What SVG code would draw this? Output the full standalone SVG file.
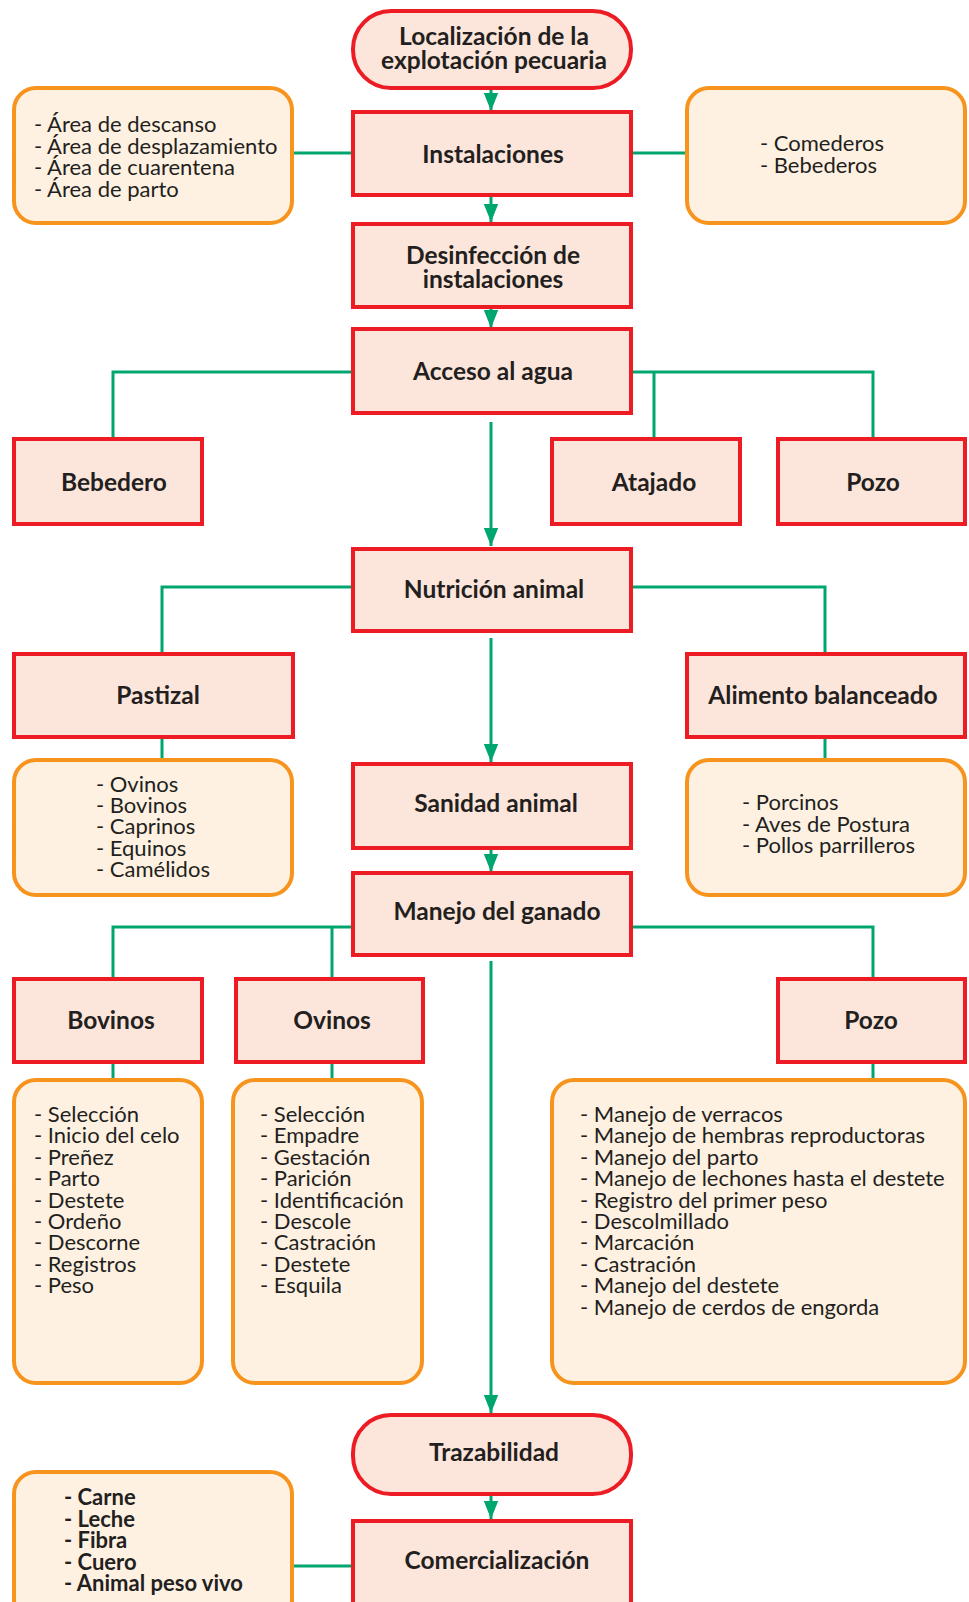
<svg xmlns="http://www.w3.org/2000/svg" width="969" height="1602" viewBox="0 0 969 1602">
<style>
.b{fill:#fce5da;stroke:#ed1c24;stroke-width:4}
.o{fill:#fef1e2;stroke:#f7941d;stroke-width:4}
.h{font-family:Lato,"Liberation Sans",sans-serif;font-weight:bold;font-size:24.5px;fill:#231f20;text-anchor:middle}
.t{font-family:Lato,"Liberation Sans",sans-serif;font-size:22px;fill:#231f20}
.tb{font-family:Lato,"Liberation Sans",sans-serif;font-size:22px;font-weight:bold;fill:#231f20}
.c{fill:none;stroke:#00a66f;stroke-width:3}
</style>
<defs>
<marker id="ar" markerUnits="userSpaceOnUse" markerWidth="18" markerHeight="22" refX="20" refY="8" orient="auto" viewBox="0 0 20 16">
<path d="M0,0 L20,8 L0,16 Z" fill="#00a66f"/>
</marker>
</defs>
<g id="connectors">
<path class="c" d="M491,90 V111" marker-end="url(#ar)"/>
<path class="c" d="M491,197 V222" marker-end="url(#ar)"/>
<path class="c" d="M491,309 V328" marker-end="url(#ar)"/>
<path class="c" d="M294,153 H351 M633,153 H685"/>
<path class="c" d="M351,372 H113 V437 M633,372 H873 V437 M654,372 V437"/>
<path class="c" d="M491,422 V546" marker-end="url(#ar)"/>
<path class="c" d="M351,587 H162 V652 M633,587 H825 V652 M162,739 V758 M825,739 V758"/>
<path class="c" d="M491,638 V762" marker-end="url(#ar)"/>
<path class="c" d="M491,850 V872" marker-end="url(#ar)"/>
<path class="c" d="M351,927 H113 V977 M332,927 V977 M633,927 H873 V977 M113,1064 V1078 M332,1064 V1078 M873,1064 V1078"/>
<path class="c" d="M491,961 V1413" marker-end="url(#ar)"/>
<path class="c" d="M491,1496 V1519" marker-end="url(#ar)"/>
<path class="c" d="M294,1566 H351"/>
</g>
<g id="n-localizacion"><rect class="b" x="353" y="11" width="278" height="77" rx="38"/><text class="h" x="494" y="45">Localización de la</text><text class="h" x="494" y="69">explotación pecuaria</text></g>
<g id="n-areas"><rect class="o" x="14" y="88" width="278" height="135" rx="22"/><text class="t" x="34" y="132">- Área de descanso</text><text class="t" x="34" y="154">- Área de desplazamiento</text><text class="t" x="34" y="175">- Área de cuarentena</text><text class="t" x="34" y="197">- Área de parto</text></g>
<g id="n-instalaciones"><rect class="b" x="353" y="112" width="278" height="83"/><text class="h" x="493" y="163">Instalaciones</text></g>
<g id="n-comederos"><rect class="o" x="687" y="88" width="278" height="135" rx="22"/><text class="t" x="760" y="151">- Comederos</text><text class="t" x="760" y="173">- Bebederos</text></g>
<g id="n-desinfeccion"><rect class="b" x="353" y="224" width="278" height="83"/><text class="h" x="493" y="264">Desinfección de</text><text class="h" x="493" y="288">instalaciones</text></g>
<g id="n-acceso"><rect class="b" x="353" y="329" width="278" height="84"/><text class="h" x="493" y="380">Acceso al agua</text></g>
<g id="n-bebedero"><rect class="b" x="14" y="439" width="188" height="85"/><text class="h" x="114" y="491">Bebedero</text></g>
<g id="n-atajado"><rect class="b" x="552" y="439" width="188" height="85"/><text class="h" x="654" y="491">Atajado</text></g>
<g id="n-pozo1"><rect class="b" x="778" y="439" width="187" height="85"/><text class="h" x="873" y="491">Pozo</text></g>
<g id="n-nutricion"><rect class="b" x="353" y="549" width="278" height="82"/><text class="h" x="494" y="598">Nutrición animal</text></g>
<g id="n-pastizal"><rect class="b" x="14" y="654" width="279" height="83"/><text class="h" x="158" y="704">Pastizal</text></g>
<g id="n-alimento"><rect class="b" x="687" y="654" width="278" height="83"/><text class="h" x="823" y="704">Alimento balanceado</text></g>
<g id="n-pastizal-list"><rect class="o" x="14" y="760" width="278" height="135" rx="22"/><text class="t" x="96" y="792">- Ovinos</text><text class="t" x="96" y="813">- Bovinos</text><text class="t" x="96" y="834">- Caprinos</text><text class="t" x="96" y="856">- Equinos</text><text class="t" x="96" y="877">- Camélidos</text></g>
<g id="n-alimento-list"><rect class="o" x="687" y="760" width="278" height="135" rx="22"/><text class="t" x="742" y="810">- Porcinos</text><text class="t" x="742" y="832">- Aves de Postura</text><text class="t" x="742" y="853">- Pollos parrilleros</text></g>
<g id="n-sanidad"><rect class="b" x="353" y="764" width="278" height="84"/><text class="h" x="496" y="812">Sanidad animal</text></g>
<g id="n-manejo"><rect class="b" x="353" y="873" width="278" height="82"/><text class="h" x="497" y="920">Manejo del ganado</text></g>
<g id="n-bovinos"><rect class="b" x="14" y="979" width="188" height="83"/><text class="h" x="111" y="1029">Bovinos</text></g>
<g id="n-ovinos"><rect class="b" x="236" y="979" width="187" height="83"/><text class="h" x="332" y="1029">Ovinos</text></g>
<g id="n-pozo2"><rect class="b" x="778" y="979" width="187" height="83"/><text class="h" x="871" y="1029">Pozo</text></g>
<g id="n-bovinos-list"><rect class="o" x="14" y="1080" width="188" height="303" rx="22"/>
<text class="t" x="34" y="1122">- Selección</text><text class="t" x="34" y="1143">- Inicio del celo</text><text class="t" x="34" y="1165">- Preñez</text><text class="t" x="34" y="1186">- Parto</text><text class="t" x="34" y="1208">- Destete</text><text class="t" x="34" y="1229">- Ordeño</text><text class="t" x="34" y="1250">- Descorne</text><text class="t" x="34" y="1272">- Registros</text><text class="t" x="34" y="1293">- Peso</text></g>
<g id="n-ovinos-list"><rect class="o" x="233" y="1080" width="189" height="303" rx="22"/>
<text class="t" x="260" y="1122">- Selección</text><text class="t" x="260" y="1143">- Empadre</text><text class="t" x="260" y="1165">- Gestación</text><text class="t" x="260" y="1186">- Parición</text><text class="t" x="260" y="1208">- Identificación</text><text class="t" x="260" y="1229">- Descole</text><text class="t" x="260" y="1250">- Castración</text><text class="t" x="260" y="1272">- Destete</text><text class="t" x="260" y="1293">- Esquila</text></g>
<g id="n-pozo-list"><rect class="o" x="552" y="1080" width="413" height="303" rx="22"/>
<text class="t" x="580" y="1122">- Manejo de verracos</text><text class="t" x="580" y="1143">- Manejo de hembras reproductoras</text><text class="t" x="580" y="1165">- Manejo del parto</text><text class="t" x="580" y="1186">- Manejo de lechones hasta el destete</text><text class="t" x="580" y="1208">- Registro del primer peso</text><text class="t" x="580" y="1229">- Descolmillado</text><text class="t" x="580" y="1250">- Marcación</text><text class="t" x="580" y="1272">- Castración</text><text class="t" x="580" y="1293">- Manejo del destete</text><text class="t" x="580" y="1315">- Manejo de cerdos de engorda</text></g>
<g id="n-trazabilidad"><rect class="b" x="353" y="1415" width="278" height="79" rx="38"/><text class="h" x="494" y="1461">Trazabilidad</text></g>
<g id="n-productos"><rect class="o" x="14" y="1472" width="278" height="150" rx="22"/>
<text class="tb" x="64" y="1505">- Carne</text><text class="tb" x="64" y="1527">- Leche</text><text class="tb" x="64" y="1548">- Fibra</text><text class="tb" x="64" y="1570">- Cuero</text><text class="tb" x="64" y="1591">- Animal peso vivo</text></g>
<g id="n-comercializacion"><rect class="b" x="353" y="1521" width="278" height="100"/><text class="h" x="497" y="1569">Comercialización</text></g>
</svg>
